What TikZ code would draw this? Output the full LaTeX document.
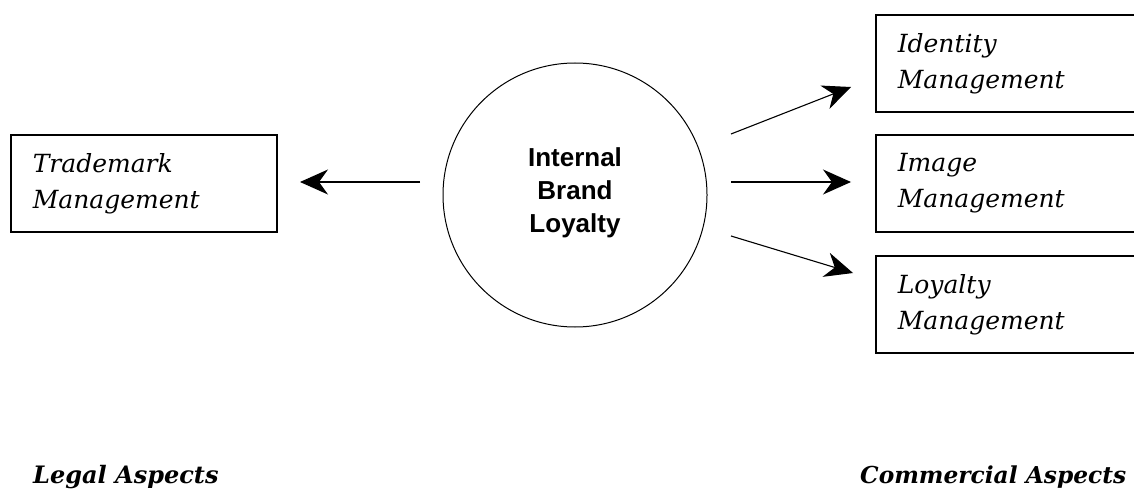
\documentclass[tikz,border=0pt]{standalone}
\usepackage{fontspec}
\setmainfont{DejaVu Serif}
\newfontfamily\headsans{Liberation Sans}
\usetikzlibrary{arrows.meta}
\begin{document}
\begin{tikzpicture}[x=1pt,y=-1pt,
  mgmtbox/.style={draw, line width=1.6pt, anchor=north west, minimum height=97pt,
    inner xsep=22pt, inner ysep=0pt, align=left,
    font=\fontsize{25}{36}\selectfont\itshape},
  flow/.style={line width=1.1pt, -{Stealth[length=28pt,width=25pt,inset=9pt]}},
  aspect/.style={anchor=base west, inner sep=0pt,
    font=\fontsize{24}{28}\selectfont\bfseries\itshape}]
  \clip (0,0) rectangle (1134,489);
  \fill[white] (0,0) rectangle (1134,489);

  % central circle
  \node (core) [circle, draw, line width=1pt, minimum size=264pt] at (575,195) {};
  \node (coretext) [align=center, font=\fontsize{26}{33}\selectfont\headsans\bfseries]
    at (575,193) {Internal\\Brand\\Loyalty};

  % management boxes
  \node (trade) [mgmtbox, text width=222pt] at (10,134) {Trademark\\Management};
  \node (ident) [mgmtbox, text width=236pt] at (875,14) {Identity\\Management};
  \node (image) [mgmtbox, text width=236pt] at (875,134) {Image\\Management};
  \node (loyal) [mgmtbox, text width=236pt] at (875,255) {Loyalty\\Management};

  % arrow end points
  \coordinate (lstart) at (420,182);
  \coordinate (lend) at (300,182);
  \coordinate (r1s) at (731,134);
  \coordinate (r1e) at (851,87);
  \coordinate (r2s) at (731,182);
  \coordinate (r2e) at (851,182);
  \coordinate (r3s) at (731,236);
  \coordinate (r3e) at (853,273);

  \draw[flow] (lstart) -- (lend);
  \draw[flow] (r1s) -- (r1e);
  \draw[flow] (r2s) -- (r2e);
  \draw[flow] (r3s) -- (r3e);

  % section labels
  \node (legal) [aspect] at (33,483) {Legal Aspects};
  \node (commercial) [aspect, font=\fontsize{23.3}{28}\selectfont\bfseries\itshape]
    at (860,483) {Commercial Aspects};
\end{tikzpicture}
\end{document}
